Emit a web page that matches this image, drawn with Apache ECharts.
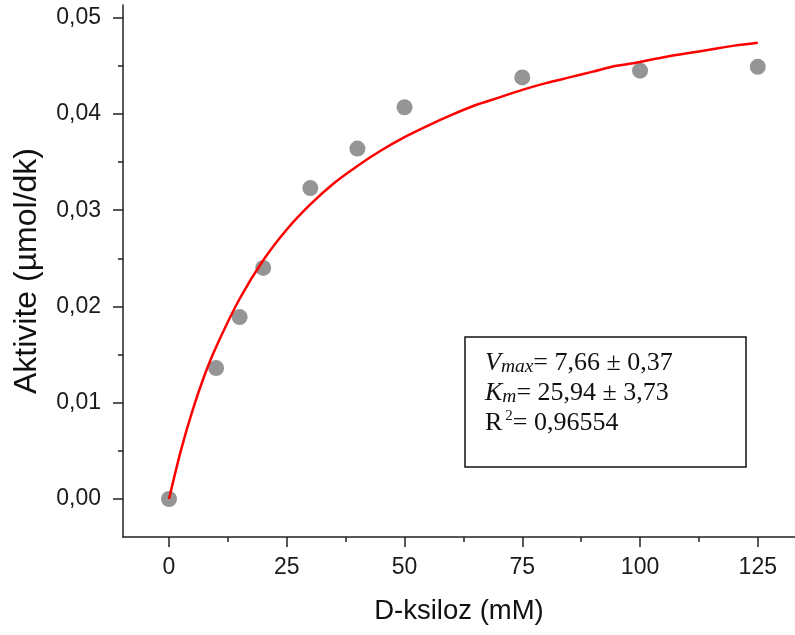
<!DOCTYPE html>
<html>
<head>
<meta charset="utf-8">
<script src="https://cdn.jsdelivr.net/npm/echarts@6/dist/echarts.min.js"></script>
<style>
html,body{margin:0;padding:0;background:#fff;}
#chart{width:795px;height:635px;}
</style>
</head>
<body>
<div id="chart"></div>
<script>
// Tick values
const xTicks = [0, 25, 50, 75, 100, 125];
const xMinorTicks = [12.5, 37.5, 62.5, 87.5, 112.5];
const yTicks = [0, 0.01, 0.02, 0.03, 0.04, 0.05];
const yMinorTicks = [0.005, 0.015, 0.025, 0.035, 0.045];

// Measured data points
const substrate = [0, 10, 15, 20, 30, 40, 50, 75, 100, 125];
const activity = [0, 0.0136, 0.0189, 0.0240, 0.0323, 0.0364, 0.0407, 0.0438, 0.0445, 0.0449];

// Fitted curve
const fitX = [0, 2.5, 5, 7.5, 10, 15, 20, 25, 30, 35, 40, 45, 50, 55, 60, 65, 70, 75, 80, 85, 90, 95, 100, 105, 110, 115, 120, 125];
const fitY = [0, 0.0050, 0.0092, 0.0128, 0.0158, 0.0208, 0.0248, 0.0280, 0.0306, 0.0328, 0.0346, 0.0362, 0.0376, 0.0388, 0.0399, 0.0409, 0.0417, 0.0425, 0.0432, 0.0438, 0.0444, 0.0450, 0.0454, 0.0459, 0.0463, 0.0467, 0.0471, 0.0474];

const xTitle = 'D-ksiloz (mM)';
const yTitle = 'Aktivite (µmol/dk)';

const chart = echarts.init(document.getElementById('chart'), null, {renderer: 'canvas'});

const axisColor = '#222';
const labelFont = 'Liberation Sans, Arial, sans-serif';
const serif = 'Liberation Serif, Times New Roman, serif';

const option = {
  backgroundColor: '#fff',
  animation: false,
  grid: {left: 123, top: 5, right: 0, bottom: 98, containLabel: false, outerBoundsMode: 'none'},
  xAxis: [
    {
      type: 'value', min: -9.77, max: 132.9, position: 'bottom',
      name: xTitle, nameLocation: 'middle', nameGap: 60,
      nameTextStyle: {fontFamily: labelFont, fontSize: 27.5, color: '#111'},
      axisLine: {show: true, onZero: false, lineStyle: {color: axisColor, width: 1.5}},
      axisTick: {show: true, inside: false, length: 10, customValues: xTicks, lineStyle: {color: axisColor, width: 1.5}},
      axisLabel: {show: true, customValues: xTicks, margin: 19, fontFamily: labelFont, fontSize: 23, color: '#1a1a1a',
        formatter: v => String(v)},
      splitLine: {show: false}
    },
    {
      type: 'value', min: -9.77, max: 132.9, position: 'bottom', offset: 0,
      axisLine: {show: false, onZero: false},
      axisTick: {show: true, inside: false, length: 5, customValues: xMinorTicks, lineStyle: {color: axisColor, width: 1.5}},
      axisLabel: {show: false},
      splitLine: {show: false}
    }
  ],
  yAxis: [
    {
      type: 'value', min: -0.00395, max: 0.05132, position: 'left',
      name: yTitle, nameLocation: 'middle', nameGap: 80, nameRotate: 90,
      nameTextStyle: {fontFamily: labelFont, fontSize: 32, color: '#111'},
      axisLine: {show: true, onZero: false, lineStyle: {color: axisColor, width: 1.5}},
      axisTick: {show: true, inside: false, length: 10, customValues: yTicks, lineStyle: {color: axisColor, width: 1.5}},
      axisLabel: {show: true, customValues: yTicks, margin: 22, fontFamily: labelFont, fontSize: 23, color: '#1a1a1a',
        formatter: v => v.toFixed(2).replace('.', ',')},
      splitLine: {show: false}
    },
    {
      type: 'value', min: -0.00395, max: 0.05132, position: 'left', offset: 0,
      axisLine: {show: false, onZero: false},
      axisTick: {show: true, inside: false, length: 5, customValues: yMinorTicks, lineStyle: {color: axisColor, width: 1.5}},
      axisLabel: {show: false},
      splitLine: {show: false}
    }
  ],
  series: [
    {
      type: 'scatter', xAxisIndex: 0, yAxisIndex: 0,
      data: substrate.map((x, i) => [x, activity[i]]),
      symbol: 'circle', symbolSize: 16,
      itemStyle: {color: '#7a7a7a'},
      z: 2
    },
    {
      type: 'line', xAxisIndex: 0, yAxisIndex: 0,
      data: fitX.map((x, i) => [x, fitY[i]]),
      smooth: 0.3, showSymbol: false, symbol: 'none',
      lineStyle: {color: '#ff0000', width: 2.5},
      z: 3
    }
  ],
  graphic: [
    {
      type: 'rect', z: 10,
      shape: {x: 465, y: 337, width: 281, height: 130},
      style: {fill: '#fff', stroke: '#111', lineWidth: 1.5}
    },
    {
      type: 'text', z: 11, left: 485, top: 350.5,
      style: {
        text: '{iv|V}{isub|max}{n|= 7,66 ± 0,37}\n{iv|K}{isub|m}{n|= 25,94 ± 3,73}\n{n|R}{sup|2}{n|= 0,96554}',
        fill: '#111',
        rich: {
          iv: {fontFamily: serif, fontStyle: 'italic', fontSize: 26, lineHeight: 30, fill: '#111'},
          isub: {fontFamily: serif, fontStyle: 'italic', fontSize: 19.5, lineHeight: 20, verticalAlign: 'middle', padding: [6, 0, 0, 0], fill: '#111'},
          n: {fontFamily: serif, fontSize: 26, lineHeight: 30, fill: '#111'},
          sup: {fontFamily: serif, fontSize: 15, lineHeight: 14, verticalAlign: 'middle', padding: [0, 0, 15, 3], fill: '#111'}
        }
      }
    }
  ]
};

chart.setOption(option);
</script>
</body>
</html>
